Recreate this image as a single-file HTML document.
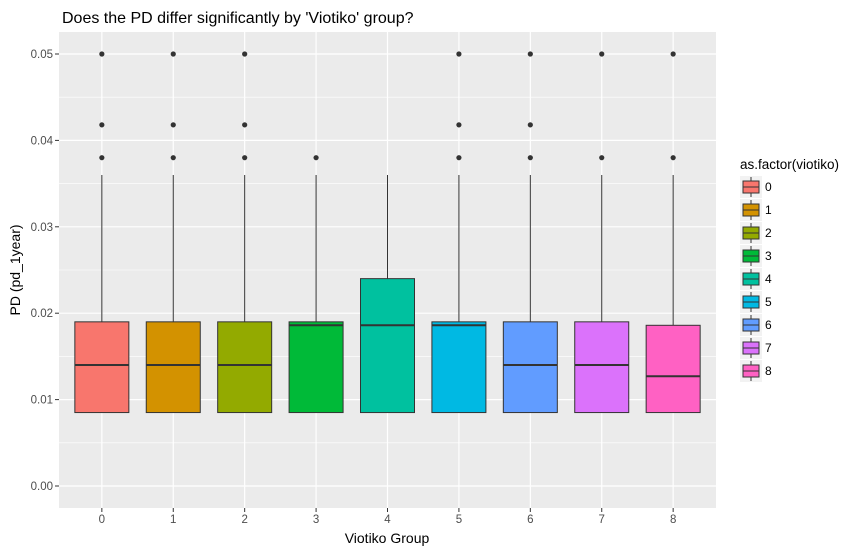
<!DOCTYPE html>
<html><head><meta charset="utf-8"><style>
body{margin:0;background:#fff;font-family:"Liberation Sans",Arial,sans-serif}
</style></head><body>
<svg id="c" width="861" height="553" xmlns="http://www.w3.org/2000/svg">
<text x="62" y="23" font-size="16" fill="#000">Does the PD differ significantly by 'Viotiko' group?</text>
<text x="387" y="543" font-size="14" text-anchor="middle" fill="#000">Viotiko Group</text>
<text transform="translate(20,270) rotate(-90)" font-size="14" text-anchor="middle" fill="#000">PD (pd_1year)</text>
<text x="740" y="169" font-size="13.5" fill="#000">as.factor(viotiko)</text>
</svg>
<script>
const groups=["0","1","2","3","4","5","6","7","8"];
const colors=["#F8766D","#D39200","#93AA00","#00BA38","#00C19F","#00B9E3","#619CFF","#DB72FB","#FF61C3"];
const q1=[0.0085,0.0085,0.0085,0.0085,0.0085,0.0085,0.0085,0.0085,0.0085];
const med=[0.014,0.014,0.014,0.0186,0.0186,0.0186,0.014,0.014,0.0127];
const q3=[0.019,0.019,0.019,0.019,0.024,0.019,0.019,0.019,0.0186];
const whiskHi=[0.036,0.036,0.036,0.036,0.036,0.036,0.036,0.036,0.036];
const whiskLo=[0.0085,0.0085,0.0085,0.0085,0.0085,0.0085,0.0085,0.0085,0.0085];
const outliers=[[0.038,0.0418,0.05],[0.038,0.0418,0.05],[0.038,0.0418,0.05],[0.038],[],[0.038,0.0418,0.05],[0.038,0.0418,0.05],[0.038,0.05],[0.038,0.05]];
const yTicks=[0,0.01,0.02,0.03,0.04,0.05];
const yTickLabels=["0.00","0.01","0.02","0.03","0.04","0.05"];

const svg=document.getElementById('c');const NS="http://www.w3.org/2000/svg";
const PL=59,PR=716,PT=32,PB=508;
const y=v=>486-v*8640;
const step=(PR-PL)/(groups.length-1+1.2);
const x=i=>PL+step*(i+0.6);
function el(t,a,p){const e=document.createElementNS(NS,t);for(const k in a)e.setAttribute(k,a[k]);(p||svg).appendChild(e);return e;}
const panel=el('rect',{x:PL,y:PT,width:PR-PL,height:PB-PT,fill:'#EBEBEB'});


for(let i=0;i<yTicks.length-1;i++){const v=(yTicks[i]+yTicks[i+1])/2;el('line',{x1:PL,x2:PR,y1:y(v),y2:y(v),stroke:'#fff','stroke-width':0.6});}
yTicks.forEach((v,i)=>{
 const g=el('line',{x1:PL,x2:PR,y1:y(v),y2:y(v),stroke:'#fff','stroke-width':1.2});
 
 
 el('line',{x1:PL-4,x2:PL,y1:y(v),y2:y(v),stroke:'#333'});
 const t=el('text',{x:PL-6,y:y(v)+4,'font-size':11.5,'text-anchor':'end',fill:'#4D4D4D'});t.textContent=yTickLabels[i];
 
 
});
groups.forEach((g,i)=>{
 const cx=x(i);
 el('line',{x1:cx,x2:cx,y1:PT,y2:PB,stroke:'#fff','stroke-width':1.2});
 el('line',{x1:cx,x2:cx,y1:PB,y2:PB+4,stroke:'#333'});
 const t=el('text',{x:cx,y:PB+15,'font-size':11.5,'text-anchor':'middle',fill:'#4D4D4D'});t.textContent=g;
 
 
});
groups.forEach((g,i)=>{
 const cx=x(i),w=54;
 const grp=el('g',{});
 
 
 el('line',{x1:cx,x2:cx,y1:y(whiskHi[i]),y2:y(q3[i]),stroke:'#333'},grp);
 el('line',{x1:cx,x2:cx,y1:y(q1[i]),y2:y(whiskLo[i]),stroke:'#333'},grp);
 el('rect',{x:cx-w/2,y:y(q3[i]),width:w,height:y(q1[i])-y(q3[i]),fill:colors[i],stroke:'#333','stroke-width':1},grp);
 el('line',{x1:cx-w/2,x2:cx+w/2,y1:y(med[i]),y2:y(med[i]),stroke:'#333','stroke-width':2},grp);
 outliers[i].forEach(o=>{const c=el('circle',{cx:cx,cy:y(o),r:2.6,fill:'#333'},grp);
  
  });
});
groups.forEach((g,i)=>{
 const ky=176+i*23;
 const k=el('g',{});
 
 
 el('rect',{x:740,y:ky,width:22,height:22,fill:'#F2F2F2'},k);
 el('line',{x1:751,x2:751,y1:ky+1,y2:ky+21,stroke:'#333'},k);
 el('rect',{x:743,y:ky+5,width:16,height:12,fill:colors[i],stroke:'#333'},k);
 el('line',{x1:743,x2:759,y1:ky+11,y2:ky+11,stroke:'#333'},k);
 const t=el('text',{x:765,y:ky+15,'font-size':12,fill:'#000'},k);t.textContent=g;
});
</script>
</body></html>
